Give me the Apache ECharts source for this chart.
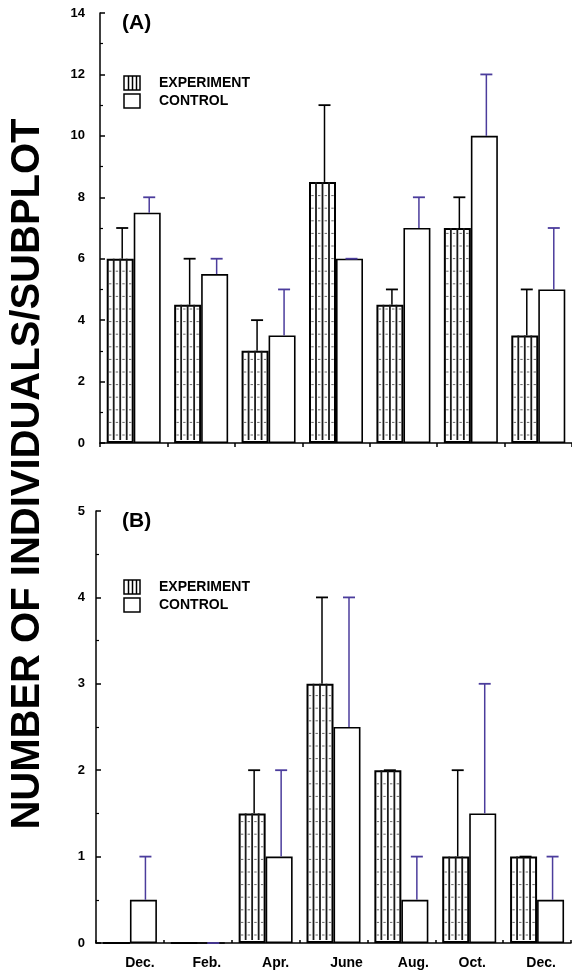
<!DOCTYPE html>
<html>
<head>
<meta charset="utf-8">
<script src="https://cdn.jsdelivr.net/npm/echarts@6/dist/echarts.min.js"></script>
<style>
html,body{margin:0;padding:0;background:#fff;}
#chart{width:572px;height:973px;}
</style>
</head>
<body>
<div id="chart"></div>
<script>
// ---------- data ----------
const categories = ['Dec.', 'Feb.', 'Apr.', 'June', 'Aug.', 'Oct.', 'Dec.'];
const seriesNames = ['EXPERIMENT', 'CONTROL'];

// Panel A
const expA = [6, 4.5, 3, 8.5, 4.5, 7, 3.5];
const expAUpper = [7, 6, 4, 11, 5, 8, 5];
const ctrlA = [7.5, 5.5, 3.5, 6, 7, 10, 5];
const ctrlAUpper = [8, 6, 5, 6, 8, 12, 7];

// Panel B
const expB = [0, 0, 1.5, 3, 2, 1, 1];
const expBUpper = [0, 0, 2, 4, 2, 2, 1];
const ctrlB = [0.5, 0, 1, 2.5, 0.5, 1.5, 0.5];
const ctrlBUpper = [1, 0, 2, 4, 1, 3, 1];

const yTicksA = [0, 2, 4, 6, 8, 10, 12, 14];
const yTicksB = [0, 1, 2, 3, 4, 5];

// ---------- styles ----------
const FONT = '"Liberation Sans", Arial, Helvetica, sans-serif';
const PURPLE = '#4b3c9c';
const BAR_W = 27;

function makeIcon(hatched) {
  const c = document.createElement('canvas');
  c.width = 18; c.height = 16;
  const g = c.getContext('2d');
  g.fillStyle = '#fff'; g.fillRect(0, 0, 18, 16);
  g.strokeStyle = '#000'; g.lineWidth = 1.5;
  g.strokeRect(1, 1, 16, 14);
  if (hatched) {
    g.lineWidth = 1.5;
    [5.5, 9.5, 13.5].forEach(x => { g.beginPath(); g.moveTo(x, 1); g.lineTo(x, 15); g.stroke(); });
  }
  return 'image://' + c.toDataURL();
}
const expIcon = makeIcon(true);
const ctrlIcon = makeIcon(false);

function hatchRender(params, api) {
  const idx = api.value(0), val = api.value(1);
  if (!(val > 0)) return null;
  const base = api.coord([idx, 0]);
  const top = api.coord([idx, val]);
  const left = base[0] - BAR_W;
  const children = [];
  const xs = [left + 7, left + 13.5, left + 20];
  xs.forEach(x => {
    children.push({type: 'line', shape: {x1: x, y1: top[1], x2: x, y2: base[1] - 3},
      style: {stroke: '#1a1a1a', lineWidth: 1.8}});
  });
  const tx = [left + 3.5, left + 10.2, left + 16.8, left + 23.5];
  tx.forEach(x => {
    for (let y = base[1] - 8; y > top[1] + 4; y -= 12.6) {
      children.push({type: 'line', shape: {x1: x - 1.2, y1: y, x2: x + 1.2, y2: y},
        style: {stroke: '#666', lineWidth: 1}});
    }
  });
  return {type: 'group', children};
}

function errRender(sign, color) {
  return function (params, api) {
    const idx = api.value(0), val = api.value(1), up = api.value(2);
    const p0 = api.coord([idx, val]);
    const p1 = api.coord([idx, up]);
    const x = p0[0] + sign * BAR_W / 2 + 2;
    const ch = [];
    if (p1[1] < p0[1]) {
      ch.push({type: 'line', shape: {x1: x, y1: p0[1], x2: x, y2: p1[1]}, style: {stroke: color, lineWidth: 1.5}});
    }
    ch.push({type: 'line', shape: {x1: x - 6, y1: p1[1], x2: x + 6, y2: p1[1]}, style: {stroke: color, lineWidth: 1.8}});
    return {type: 'group', children: ch};
  };
}

function errData(vals, ups) { return vals.map((v, i) => [i, v, ups[i]]); }
function hatchData(vals) { return vals.map((v, i) => [i, v]); }

const labelOffsets = [20, 18, 20, 26, 24, 6, 8];
const rich = {};
labelOffsets.forEach((p, i) => { rich['p' + i] = {padding: [0, 0, 0, p], fontFamily: FONT, fontWeight: 'bold', fontSize: 14, color: '#000'}; });

function yAxis(gridIndex, max, interval, margin) {
  return {
    type: 'value', gridIndex, min: 0, max, interval,
    axisLine: {show: true, lineStyle: {color: '#000', width: 1.5}},
    axisTick: {show: true, inside: true, length: 5, lineStyle: {color: '#000', width: 1.5}},
    minorTick: {show: true, splitNumber: 2, length: 3, lineStyle: {color: '#000', width: 1.2}},
    splitLine: {show: false},
    axisLabel: {fontFamily: FONT, fontWeight: 'bold', fontSize: 13, color: '#000', margin}
  };
}

function barSeries(name, data, xi, yi, bw) {
  return {
    type: 'bar', name, data, xAxisIndex: xi, yAxisIndex: yi,
    barWidth: BAR_W, barGap: '0%', z: 2,
    itemStyle: {color: '#fff', borderColor: '#000', borderWidth: bw},
    emphasis: {disabled: true}, animation: false
  };
}

const legendText = {fontFamily: FONT, fontWeight: 'bold', fontSize: 14, color: '#000', padding: [2, 0, 0, 13], lineHeight: 16};

const option = {
  animation: false,
  backgroundColor: '#fff',
  title: [
    {text: '(A)', left: 122, top: 13, padding: 0, textStyle: {fontFamily: FONT, fontWeight: 'bold', fontSize: 21, color: '#000'}},
    {text: '(B)', left: 122, top: 511, padding: 0, textStyle: {fontFamily: FONT, fontWeight: 'bold', fontSize: 21, color: '#000'}}
  ],
  legend: [
    {left: 123, top: 74, padding: 0, orient: 'vertical', itemGap: 0, itemWidth: 18, itemHeight: 16, selectedMode: false,
     data: [{name: seriesNames[0], icon: expIcon}, {name: seriesNames[1], icon: ctrlIcon}], textStyle: legendText},
    {left: 123, top: 578, padding: 0, orient: 'vertical', itemGap: 0, itemWidth: 18, itemHeight: 16, selectedMode: false,
     data: [{name: seriesNames[0], icon: expIcon}, {name: seriesNames[1], icon: ctrlIcon}], textStyle: legendText}
  ],
  grid: [
    {left: 100, top: 13, width: 472, height: 430, containLabel: false},
    {left: 96, top: 511, width: 475, height: 432, containLabel: false}
  ],
  xAxis: [
    {type: 'category', gridIndex: 0, data: categories,
     axisLine: {lineStyle: {color: '#000', width: 1.5}},
     axisTick: {show: true, inside: false, length: 4, lineStyle: {color: '#000', width: 1.5}},
     axisLabel: {show: false}},
    {type: 'category', gridIndex: 1, data: categories,
     axisLine: {lineStyle: {color: '#000', width: 1.5}},
     axisTick: {show: true, inside: true, length: 3, lineStyle: {color: '#000', width: 1.5}},
     axisLabel: {show: true, margin: 13, formatter: (v, i) => '{p' + i + '|' + v + '}', rich}}
  ],
  yAxis: [yAxis(0, yTicksA[yTicksA.length - 1], yTicksA[1] - yTicksA[0], 15),
          yAxis(1, yTicksB[yTicksB.length - 1], yTicksB[1] - yTicksB[0], 11)],
  series: [
    barSeries(seriesNames[0], expA, 0, 0, 2),
    barSeries(seriesNames[1], ctrlA, 0, 0, 1.6),
    barSeries(seriesNames[0], expB, 1, 1, 2),
    barSeries(seriesNames[1], ctrlB, 1, 1, 1.6),
    {type: 'custom', xAxisIndex: 0, yAxisIndex: 0, data: hatchData(expA), renderItem: hatchRender, z: 3, encode: {x: 0, y: 1}, silent: true},
    {type: 'custom', xAxisIndex: 1, yAxisIndex: 1, data: hatchData(expB), renderItem: hatchRender, z: 3, encode: {x: 0, y: 1}, silent: true},
    {type: 'custom', xAxisIndex: 0, yAxisIndex: 0, data: errData(expA, expAUpper), renderItem: errRender(-1, '#000'), z: 4, encode: {x: 0, y: [1, 2]}, silent: true},
    {type: 'custom', xAxisIndex: 0, yAxisIndex: 0, data: errData(ctrlA, ctrlAUpper), renderItem: errRender(1, PURPLE), z: 4, encode: {x: 0, y: [1, 2]}, silent: true},
    {type: 'custom', xAxisIndex: 1, yAxisIndex: 1, data: errData(expB, expBUpper), renderItem: errRender(-1, '#000'), z: 4, encode: {x: 0, y: [1, 2]}, silent: true},
    {type: 'custom', xAxisIndex: 1, yAxisIndex: 1, data: errData(ctrlB, ctrlBUpper), renderItem: errRender(1, PURPLE), z: 4, encode: {x: 0, y: [1, 2]}, silent: true}
  ],
  graphic: [
    {type: 'text', x: 28, y: 474, rotation: Math.PI / 2,
     style: {text: 'NUMBER OF INDIVIDUALS/SUBPLOT', fontFamily: FONT, fontWeight: 'bold', fontSize: 40, fill: '#000',
             textAlign: 'center', textVerticalAlign: 'middle'}}
  ]
};

const chart = echarts.init(document.getElementById('chart'), null, {renderer: 'canvas'});
chart.setOption(option);
</script>
</body>
</html>
